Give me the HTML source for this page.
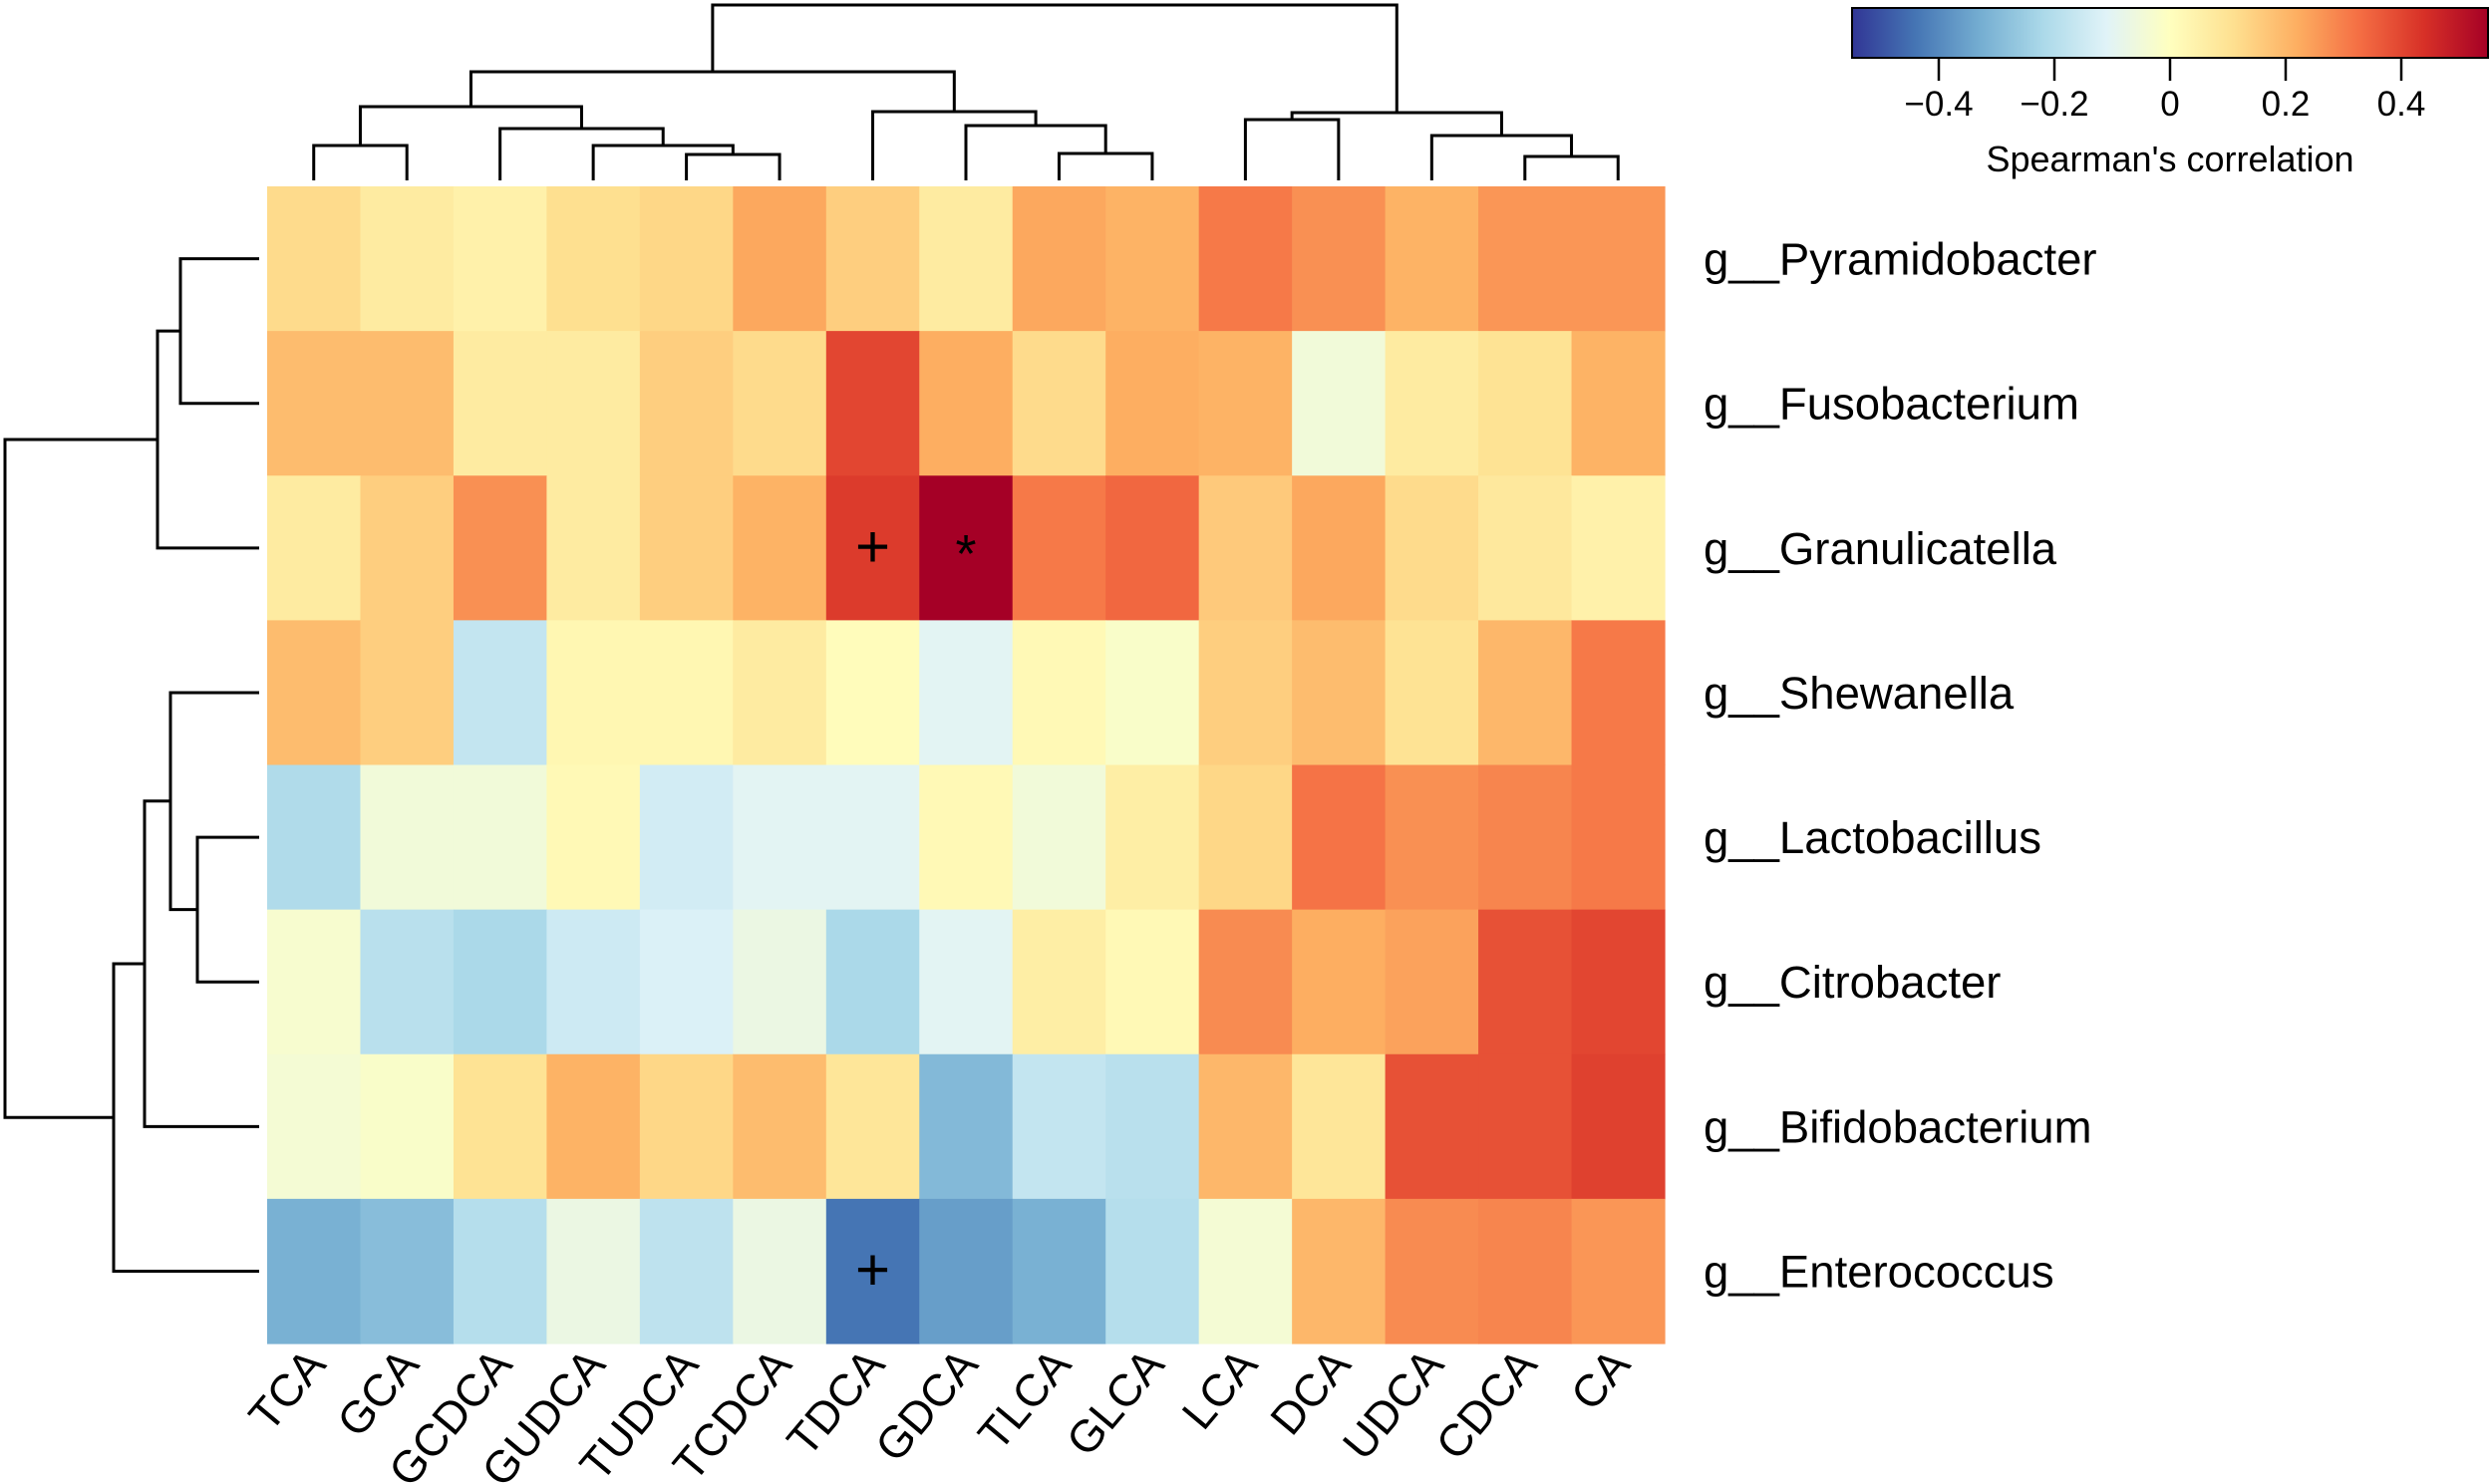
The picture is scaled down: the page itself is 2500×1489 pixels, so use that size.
<!DOCTYPE html>
<html><head><meta charset="utf-8"><style>
html,body{margin:0;padding:0;background:#fff;}
svg{display:block;font-family:"Liberation Sans",Arial,sans-serif;}
</style></head><body>
<svg id="chart" width="2500" height="1489" viewBox="0 0 2500 1489" xmlns="http://www.w3.org/2000/svg">
<defs>
<linearGradient id="cbgrad" x1="0" x2="1" y1="0" y2="0">
<stop offset="0" stop-color="#313695"/><stop offset="0.1" stop-color="#4575b4"/><stop offset="0.2" stop-color="#74add1"/><stop offset="0.3" stop-color="#abd9e9"/><stop offset="0.4" stop-color="#e0f3f8"/><stop offset="0.5" stop-color="#ffffbf"/><stop offset="0.6" stop-color="#fee090"/><stop offset="0.7" stop-color="#fdae61"/><stop offset="0.8" stop-color="#f46d43"/><stop offset="0.9" stop-color="#d73027"/><stop offset="1" stop-color="#a50026"/>
</linearGradient>
</defs>
<g id="cells"></g>
<g id="marks"></g>
<g id="rowlabels"></g>
<g id="collabels"></g>
<g id="coldendro" stroke="#000" stroke-width="3" fill="none"></g>
<g id="rowdendro" stroke="#000" stroke-width="3" fill="none"></g>
<g id="legend">
<rect x="1858" y="8" width="638" height="50" fill="url(#cbgrad)" stroke="#000" stroke-width="2"/>
<g id="cbticks"></g>
<text x="2177" y="172" font-size="36" text-anchor="middle">Spearman's correlation</text>
</g>
</svg>
<script>
const cols = ["TCA","GCA","GCDCA","GUDCA","TUDCA","TCDCA","TDCA","GDCA","TLCA","GLCA","LCA","DCA","UDCA","CDCA","CA"];
const rows = ["g__Pyramidobacter","g__Fusobacterium","g__Granulicatella","g__Shewanella","g__Lactobacillus","g__Citrobacter","g__Bifidobacterium","g__Enterococcus"];
const vPyramidobacter = [0.12,0.07,0.05,0.11,0.13,0.23,0.15,0.07,0.23,0.21,0.31,0.27,0.21,0.26,0.26];
const vFusobacterium = [0.19,0.19,0.07,0.07,0.15,0.12,0.40,0.22,0.12,0.22,0.21,-0.05,0.07,0.10,0.21];
const vGranulicatella = [0.07,0.15,0.27,0.07,0.15,0.21,0.42,0.55,0.31,0.34,0.16,0.23,0.12,0.08,0.05];
const vShewanella = [0.19,0.15,-0.17,0.03,0.03,0.07,0.01,-0.10,0.02,-0.02,0.15,0.19,0.10,0.20,0.31];
const vLactobacillus = [-0.21,-0.05,-0.05,0.02,-0.14,-0.10,-0.10,0.02,-0.05,0.06,0.13,0.32,0.27,0.29,0.31];
const vCitrobacter = [-0.03,-0.19,-0.22,-0.15,-0.12,-0.07,-0.22,-0.10,0.06,0.02,0.28,0.22,0.24,0.38,0.40];
const vBifidobacterium = [-0.04,-0.02,0.10,0.21,0.13,0.19,0.09,-0.30,-0.17,-0.19,0.20,0.09,0.38,0.38,0.41];
const vEnterococcus = [-0.32,-0.29,-0.20,-0.07,-0.18,-0.07,-0.44,-0.36,-0.32,-0.20,-0.04,0.20,0.28,0.29,0.26];
const values = [vPyramidobacter,vFusobacterium,vGranulicatella,vShewanella,vLactobacillus,vCitrobacter,vBifidobacterium,vEnterococcus];
const markRows = [2,2,7];
const markCols = [6,7,6];
const markSyms = ["+","*","+"];
const cbTicks = [-0.4,-0.2,0,0.2,0.4];
const cbTickLabels = ["\u22120.4","\u22120.2","0","0.2","0.4"];
const colMerges = [[0,1,146],[4,5,155],[3,"m1",146],[2,"m2",129],["m0","m3",107],[8,9,154],[7,"m5",126],[6,"m6",112],["m4","m7",72],[10,11,120],[13,14,157],[12,"m10",136],["m9","m11",113],["m8","m12",5]];
const rowMerges = [[0,1,181],["m0",2,158],[4,5,198],[3,"m2",171],[6,"m3",145],[7,"m4",114],["m1","m5",5]];

const NS="http://www.w3.org/2000/svg";
const X0=268,X1=1670,Y0=187,Y1=1348;
const cw=(X1-X0)/cols.length, rh=(Y1-Y0)/rows.length;
const xCol=i=>X0+i*cw, yRow=j=>Y0+j*rh;
const VMIN=-0.55,VMAX=0.55;
const pal=["#313695","#4575b4","#74add1","#abd9e9","#e0f3f8","#ffffbf","#fee090","#fdae61","#f46d43","#d73027","#a50026"];
function hex(h){return [1,3,5].map(i=>parseInt(h.substr(i,2),16));}
function color(v){let t=(v-VMIN)/(VMAX-VMIN);t=Math.max(0,Math.min(1,t))*(pal.length-1);
 const i=Math.min(pal.length-2,Math.floor(t)),f=t-i;const a=hex(pal[i]),b=hex(pal[i+1]);
 return "rgb("+a.map((c,k)=>Math.round(c+(b[k]-c)*f)).join(",")+")";}
function mk(tag,attrs,parent){const e=document.createElementNS(NS,tag);for(const k in attrs)e.setAttribute(k,attrs[k]);parent.appendChild(e);return e;}

const gc=document.getElementById("cells");
values.forEach((row,j)=>row.forEach((v,i)=>{
 const r=mk("rect",{x:xCol(i),y:yRow(j),width:cw+0.6,height:rh+0.6,fill:color(v)},gc);
 
 
}));
const gm=document.getElementById("marks");
markSyms.forEach((s,k)=>{
 const t=mk("text",{x:xCol(markCols[k])+cw/2,y:yRow(markRows[k])+rh/2+(s==="*"?24:19),"font-size":s==="*"?54:60,"text-anchor":"middle"},gm);
 t.textContent=s;
 
 
});
const gr=document.getElementById("rowlabels");
rows.forEach((n,j)=>{
 const t=mk("text",{x:1709,y:yRow(j)+rh/2+16,"font-size":45.5},gr);
 t.textContent=n;
 
 
});
const gcl=document.getElementById("collabels");
cols.forEach((n,i)=>{
 const x=xCol(i)+cw/2+14,y=1370;
 const t=mk("text",{x:x,y:y,"font-size":45,"text-anchor":"end",transform:"rotate(-50 "+x+" "+y+")"},gcl);
 t.textContent=n;
 
 
});
function dendro(merges,pos,leafEdge,horizontal,g){
 const nodes={};
 const get=n=>typeof n==="number"?{p:pos(n),h:leafEdge}:nodes[n];
 merges.forEach((m,k)=>{
  const a=get(m[0]),b=get(m[1]),h=m[2];
  let d;
  if(!horizontal) d="M"+a.p+","+a.h+"V"+h+"H"+b.p+"V"+b.h;
  else d="M"+a.h+","+a.p+"H"+h+"V"+b.p+"H"+b.h;
  const p=mk("path",{d:d},g);
  
  
  nodes["m"+k]={p:(a.p+b.p)/2,h:h};
 });
}
dendro(colMerges,i=>xCol(i)+cw/2,181,false,document.getElementById("coldendro"));
dendro(rowMerges,j=>yRow(j)+rh/2,260,true,document.getElementById("rowdendro"));
const gt=document.getElementById("cbticks");
const cbX=v=>1858+(v-VMIN)/(VMAX-VMIN)*638;
cbTicks.forEach((v,k)=>{
 const l=mk("line",{x1:cbX(v),x2:cbX(v),y1:58,y2:81,stroke:"#000","stroke-width":2.5},gt);
 
 
 const t=mk("text",{x:cbX(v),y:116,"font-size":35,"text-anchor":"middle"},gt);
 t.textContent=cbTickLabels[k];
 
 
});
</script>
</body></html>
